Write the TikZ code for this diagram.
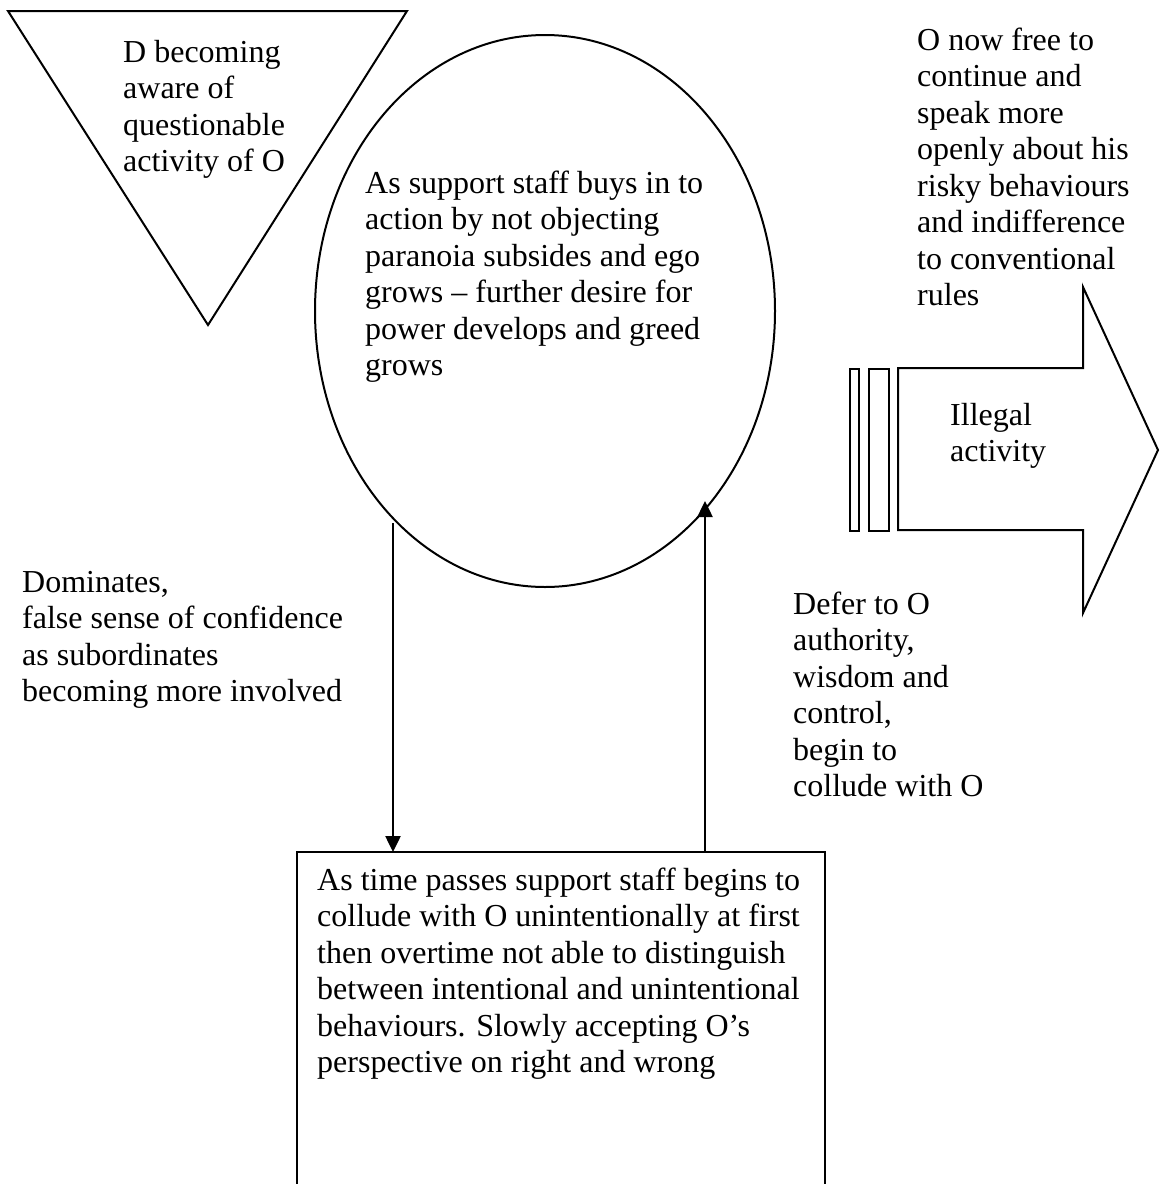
\documentclass[tikz,border=0pt]{standalone}
\usepackage{fontspec}
\setmainfont{Liberation Serif}
\usetikzlibrary{arrows.meta,shapes.geometric}
\begin{document}
\begin{tikzpicture}[x=1pt,y=-1pt,
  outline/.style={draw=black, line width=2pt},
  txt/.style={anchor=north west, inner sep=0pt, align=left,
    font=\fontsize{32}{36.5}\selectfont},
  link/.style={line width=2.5pt, -{Triangle[width=15pt,length=16pt]}}]
\useasboundingbox (0,0) rectangle (1160,1184);
\clip (0,0) rectangle (1160,1184);
\fill[white] (0,0) rectangle (1160,1184);

% inverted triangle
\coordinate (triA) at (8,11);
\coordinate (triB) at (407,11);
\coordinate (triC) at (208,325);
\draw[outline, line join=miter] (triA) -- (triB) -- (triC) -- cycle;
\node[txt] (tritext) at (123,36.5) {\strut D becoming\\aware of\\questionable\\activity of O};

% central ellipse
\node[outline, ellipse, minimum width=460pt, minimum height=552pt, inner sep=0pt] (ell) at (545,311) {};
\node[txt] (elltext) at (365,167.5) {\strut As support staff buys in to\\action by not objecting\\paranoia subsides and ego\\grows -- further desire for\\power develops and greed\\grows};

% outcome text, top right
\node[txt] (free) at (917,24.5) {\strut O now free to\\continue and\\speak more\\openly about his\\risky behaviours\\and indifference\\to conventional\\rules};

% striped block arrow
\node[outline, minimum width=9pt, minimum height=162pt, inner sep=0pt, anchor=north west] (bar1) at (849,368) {};
\node[outline, minimum width=20pt, minimum height=162pt, inner sep=0pt, anchor=north west] (bar2) at (868,368) {};
\draw[outline, line join=miter] (898,368) -- (1083,368) -- (1083,287) -- (1158,450) -- (1083,613) -- (1083,530) -- (898,530) -- cycle;
\node[txt] (illegal) at (950,399.5) {\strut Illegal\\activity};

% side notes
\node[txt] (dominates) at (22,566.5) {\strut Dominates,\\false sense of confidence\\as subordinates\\becoming more involved};
\node[txt] (defer) at (793,588.5) {\strut Defer to O\\authority,\\wisdom and\\control,\\begin to\\collude with O};

% bottom box
\draw[draw=black, line width=2.7pt] (297,1200) -- (297,852) coordinate (boxNW) -- (825,852) coordinate (boxNE) -- (825,1200);
\node[txt] (boxtext) at (317,864.5) {\strut As time passes support staff begins to\\collude with O unintentionally at first\\then overtime not able to distinguish\\between intentional and unintentional\\behaviours. Slowly accepting O’s\\perspective on right and wrong};

% feedback connectors between ellipse and box
\coordinate (downStart) at (393,523);
\coordinate (upEnd) at (705,501);
\draw[link] (downStart) -- (downStart |- boxNW);
\draw[link] (upEnd |- boxNW) -- (upEnd);
\end{tikzpicture}
\end{document}
